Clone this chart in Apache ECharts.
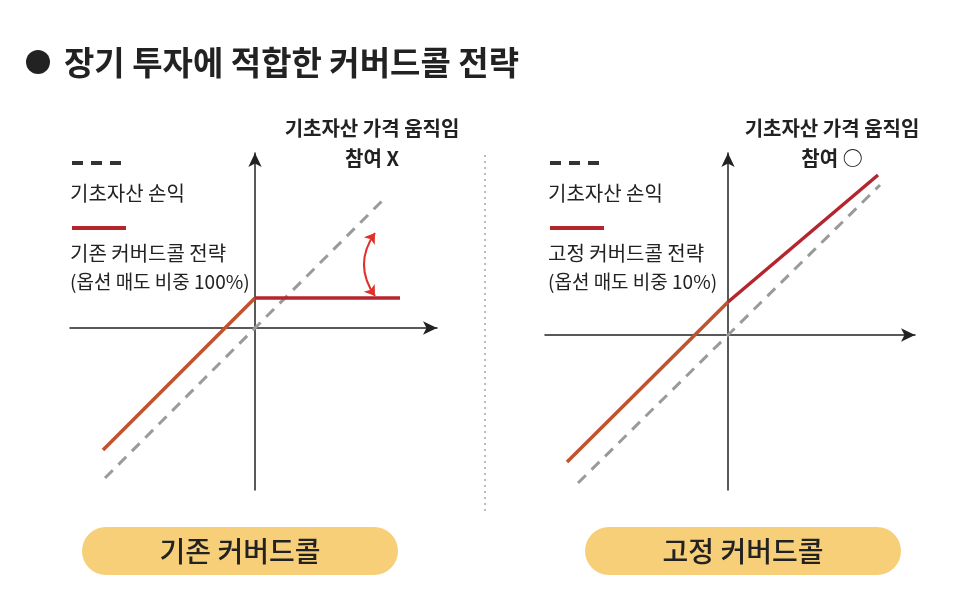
<!DOCTYPE html><html><head><meta charset="utf-8"><script src="https://cdn.jsdelivr.net/npm/echarts@6/dist/echarts.min.js"></script></head><body style="margin:0;background:#fff"><div id="c" style="width:966px;height:612px"></div><script>
const underlyingL=[[-150,-150],[130,130]];
const strategyLOrange=[[-152,-122],[0,30]];
const strategyLRed=[[0,30],[145,30]];
const underlyingR=[[-150,-148],[152,150]];
const strategyROrange=[[-161,-127],[0,33]];
const strategyRRed=[[0,33],[150,160]];
const arcArrow=[{coords:[[120,95],[120,32]]}];
const F='"Noto Sans CJK KR",sans-serif';
function axes(i,xmin,xmax,ymin,ymax){return{
 x:{type:'value',gridIndex:i,min:xmin,max:xmax,axisLine:{onZero:true,symbol:['none','arrow'],symbolSize:[10,14],lineStyle:{color:'#222',width:1.5}},axisTick:{show:false},axisLabel:{show:false},splitLine:{show:false}},
 y:{type:'value',gridIndex:i,min:ymin,max:ymax,axisLine:{onZero:true,symbol:['none','arrow'],symbolSize:[10,14],lineStyle:{color:'#222',width:1.5}},axisTick:{show:false},axisLabel:{show:false},splitLine:{show:false}}};}
const a0=axes(0,-185,182,-162,175), a1=axes(1,-183,187,-155,182);
function ln(d,i,c,w,t){return{type:'line',xAxisIndex:i,yAxisIndex:i,data:d,symbol:'none',silent:true,lineStyle:{color:c,width:w,type:t}};}
const ch=echarts.init(document.getElementById('c'));
const txt=(x,y,s,o)=>({type:'text',style:Object.assign({x:x,y:y,text:s,font:'20px '+F,fill:'#222',verticalAlign:'middle'},o||{})});
ch.setOption({animation:false,
grid:[{left:70,right:966-437,top:153,bottom:612-490},{left:545,right:966-915,top:153,bottom:612-490}],
xAxis:[a0.x,a1.x],yAxis:[a0.y,a1.y],
series:[ln(underlyingL,0,'#9a9a9a',3,[11,8]),ln(strategyLOrange,0,'#c0522e',3.5,'solid'),ln(strategyLRed,0,'#b3262e',3.5,'solid'),
 ln(underlyingR,1,'#9a9a9a',3,[11,8]),ln(strategyROrange,1,'#c0522e',3.5,'solid'),ln(strategyRRed,1,'#b3262e',3.5,'solid'),
 {type:'lines',coordinateSystem:'cartesian2d',xAxisIndex:0,yAxisIndex:0,data:arcArrow,symbol:['arrow','arrow'],symbolSize:10,lineStyle:{color:'#e0302a',width:2,opacity:1,curveness:-0.35}}],
graphic:[
 {type:'circle',shape:{cx:38,cy:62,r:12},style:{fill:'#222'}},
 txt(64,62,'장기 투자에 적합한 커버드콜 전략',{font:'bold 33px '+F}),
 {type:'line',shape:{x1:485,y1:155,x2:485,y2:512},style:{stroke:'#bbb',lineWidth:2,lineDash:[2,4]}},
 {type:'line',shape:{x1:72,y1:163,x2:126,y2:163},style:{stroke:'#333',lineWidth:4,lineDash:[11,8]}},
 {type:'line',shape:{x1:72,y1:228,x2:126,y2:228},style:{stroke:'#b3262e',lineWidth:4}},
 txt(70,193,'기초자산 손익'),txt(70,253,'기존 커버드콜 전략'),txt(70,282,'(옵션 매도 비중 100%)',{font:'19px '+F}),
 {type:'line',shape:{x1:550,y1:163,x2:604,y2:163},style:{stroke:'#333',lineWidth:4,lineDash:[11,8]}},
 {type:'line',shape:{x1:550,y1:228,x2:604,y2:228},style:{stroke:'#b3262e',lineWidth:4}},
 txt(548,193,'기초자산 손익'),txt(548,253,'고정 커버드콜 전략'),txt(548,282,'(옵션 매도 비중 10%)',{font:'19px '+F}),
 txt(372,128,'기초자산 가격 움직임',{font:'bold 20px '+F,align:'center'}),
 txt(372,158,'참여 X',{font:'bold 20px '+F,align:'center'}),
 txt(832,128,'기초자산 가격 움직임',{font:'bold 20px '+F,align:'center'}),
 txt(832,158,'참여 ○',{font:'bold 20px '+F,align:'center'}),
 {type:'rect',shape:{x:82,y:527,width:316,height:48,r:24},style:{fill:'#f7cf78'}},
 {type:'rect',shape:{x:585,y:527,width:316,height:48,r:24},style:{fill:'#f7cf78'}},
 txt(240,551,'기존 커버드콜',{font:'500 28px '+F,align:'center'}),
 txt(743,551,'고정 커버드콜',{font:'500 28px '+F,align:'center'})
]});
</script></body></html>
